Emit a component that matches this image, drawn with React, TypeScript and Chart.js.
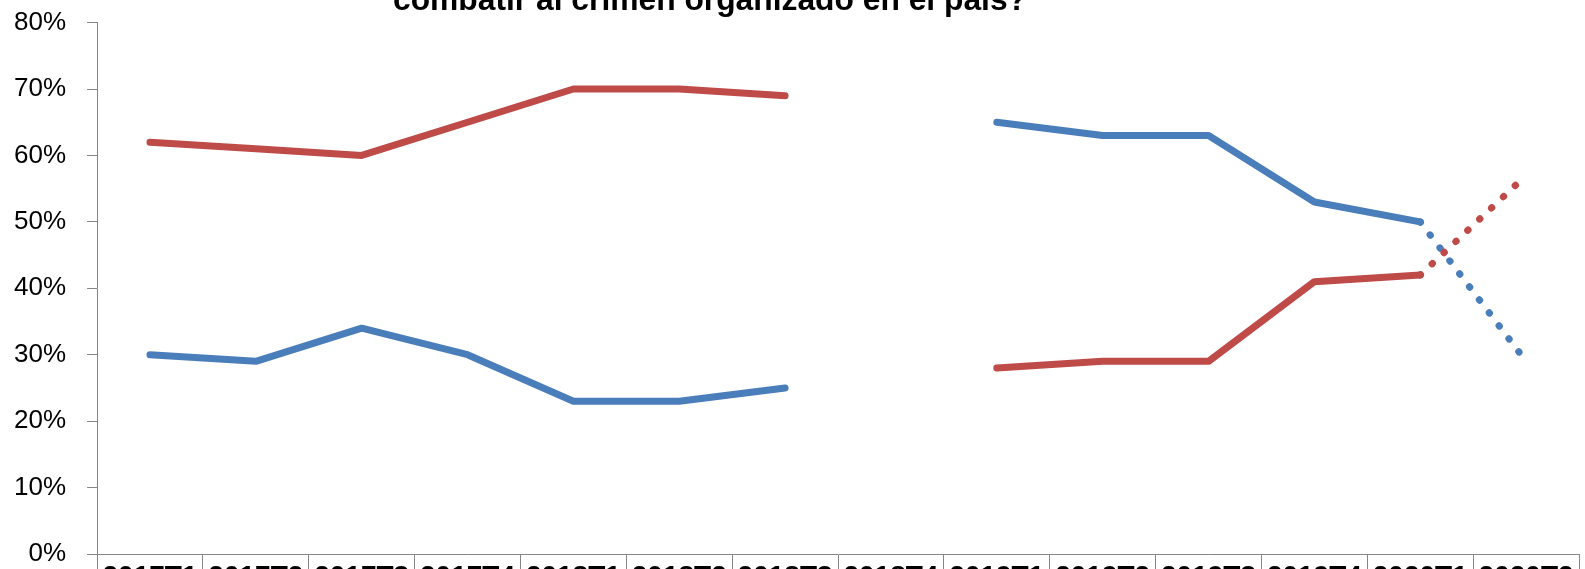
import React, { useEffect, useRef } from "react";
import { Chart, registerables } from "chart.js";

Chart.register(...registerables);

const categories = [
  "2017T1", "2017T2", "2017T3", "2017T4",
  "2018T1", "2018T2", "2018T3", "2018T4",
  "2019T1", "2019T2", "2019T3", "2019T4",
  "2020T1", "2020T2",
];
const blueSeries = [30, 29, 34, 30, 23, 23, 25, null, 65, 63, 63, 53, 50, null];
const redSeries = [62, 61, 60, 65, 70, 70, 69, null, 28, 29, 29, 41, 42, null];
const blueProjection = [null, null, null, null, null, null, null, null, null, null, null, null, 50, 29];
const redProjection = [null, null, null, null, null, null, null, null, null, null, null, null, 42, 57];
const yTicks = [0, 10, 20, 30, 40, 50, 60, 70, 80];
const titleText = "combatir al crimen organizado en el país?";

const BLUE = "#4A7EBB";
const RED = "#BE4B48";
const AXIS = "#868686";

// canvas is larger than the window and offset so the picture is cropped like the reference
const SHIFT_X = 20;
const SHIFT_Y = 14;
const CANVAS_W = 1585 + SHIFT_X;
const CANVAS_H = 608;

const titlePlugin = {
  id: "croppedTitle",
  afterDraw(chart: any) {
    const ctx = chart.ctx;
    ctx.save();
    ctx.font = 'bold 32px "Liberation Sans", Arial, sans-serif';
    ctx.fillStyle = "#000";
    ctx.textAlign = "center";
    ctx.textBaseline = "alphabetic";
    ctx.fillText(titleText, 710 + SHIFT_X, 10 + SHIFT_Y, 634);
    ctx.restore();
  },
};

const xLabelsPlugin = {
  id: "xCategoryLabels",
  afterDraw(chart: any) {
    const scale = chart.scales.x;
    const ctx = chart.ctx;
    ctx.save();
    ctx.font = 'bold 28px "Liberation Sans", Arial, sans-serif';
    ctx.fillStyle = "#000";
    ctx.textAlign = "center";
    ctx.textBaseline = "alphabetic";
    categories.forEach((label, i) => {
      ctx.fillText(label, scale.getPixelForTick(i), scale.top + 31);
    });
    ctx.restore();
  },
};

export default function App() {
  const ref = useRef<HTMLCanvasElement | null>(null);
  useEffect(() => {
    document.body.style.overflow = "hidden";
    const canvas = ref.current;
    if (!canvas) return;
    const solid = (label: string, data: any[], color: string) => ({
      label,
      data,
      borderColor: color,
      backgroundColor: color,
      borderWidth: 7,
      borderCapStyle: "round",
      borderJoinStyle: "round",
      pointRadius: 0,
      spanGaps: false,
    });
    const dotted = (label: string, data: any[], color: string) => ({
      label,
      data,
      borderColor: color,
      backgroundColor: color,
      borderWidth: 7,
      borderDash: [0.5, 15.8],
      borderCapStyle: "round",
      pointRadius: 0,
      spanGaps: false,
    });
    const chart = new Chart(canvas, {
      type: "line",
      data: {
        labels: categories,
        datasets: [
          dotted("Serie 2 (tendencia)", redProjection, RED),
          dotted("Serie 1 (tendencia)", blueProjection, BLUE),
          solid("Serie 2", redSeries, RED),
          solid("Serie 1", blueSeries, BLUE),
        ] as any,
      },
      options: {
        responsive: false,
        animation: false,
        layout: { padding: { top: 20.7, left: 13, right: 6, bottom: 0 } },
        plugins: {
          legend: { display: false },
          title: { display: false },
          tooltip: { enabled: false },
        },
        scales: {
          x: {
            type: "category",
            offset: true,
            grid: {
              offset: true,
              drawOnChartArea: false,
              drawTicks: true,
              tickLength: 40,
              color: AXIS,
              lineWidth: 1,
            },
            border: { display: true, color: AXIS, width: 1 },
            ticks: { display: false, autoSkip: false, maxRotation: 0 },
          },
          y: {
            min: yTicks[0],
            max: yTicks[yTicks.length - 1],
            afterBuildTicks: (scale: any) => {
              scale.ticks = yTicks.map((v) => ({ value: v }));
            },
            grid: {
              drawOnChartArea: false,
              drawTicks: true,
              tickLength: 10,
              color: AXIS,
              lineWidth: 1,
            },
            border: { display: true, color: AXIS, width: 1 },
            ticks: {
              padding: 21,
              color: "#000",
              font: { family: '"Liberation Sans", Arial, sans-serif', size: 26 },
              callback: (v: any) => `${v}%`,
            },
          },
        },
      },
      plugins: [titlePlugin, xLabelsPlugin],
    });
    return () => chart.destroy();
  }, []);
  return (
    <div
      style={{
        position: "fixed",
        top: -SHIFT_Y,
        left: -SHIFT_X,
        width: CANVAS_W,
        height: CANVAS_H,
        background: "#fff",
      }}
    >
      <canvas ref={ref} width={CANVAS_W} height={CANVAS_H} style={{ display: "block" }} />
    </div>
  );
}
